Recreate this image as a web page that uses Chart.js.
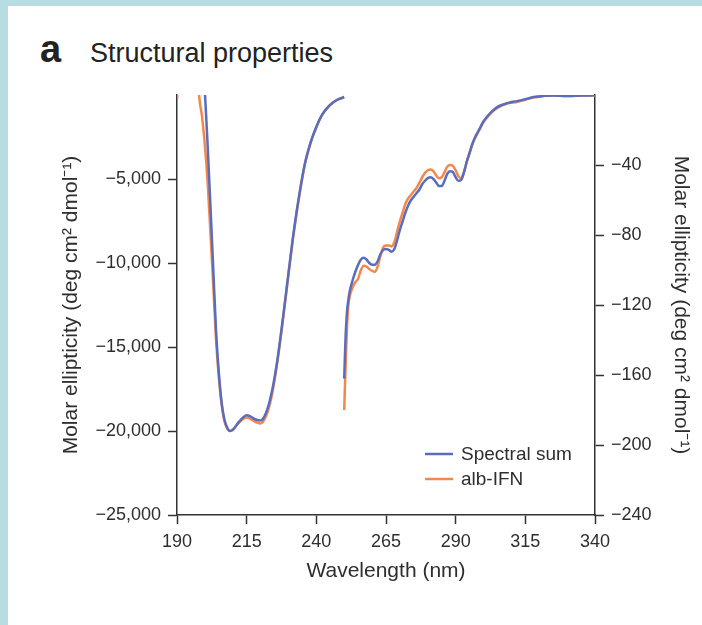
<!DOCTYPE html>
<html>
<head>
<meta charset="utf-8">
<script src="https://cdn.jsdelivr.net/npm/chart.js@4.4.0/dist/chart.umd.min.js"></script>
<style>
  html, body { margin: 0; padding: 0; background: #fff; }
  body { width: 702px; height: 625px; position: relative; overflow: hidden; font-family: 'Liberation Sans', Arial, sans-serif; }
  .band-top { position: absolute; left: 0; top: 0; width: 702px; height: 6px; background: #b7dde2; }
  .band-left { position: absolute; left: 0; top: 0; width: 8px; height: 625px; background: #b7dde2; }
  #grafico { position: absolute; left: 0; top: 0; }
  .panel { position: absolute; left: 40px; top: 30px; font-size: 38px; font-weight: bold; line-height: 38px; color: #222; }
  .heading { position: absolute; left: 90px; top: 40px; font-size: 27px; line-height: 27px; color: #222; }
</style>
</head>
<body>
<div class="band-top"></div>
<div class="band-left"></div>
<div class="panel">a</div>
<div class="heading">Structural properties</div>
<canvas id="grafico" width="702" height="625"></canvas>
<script>
// far-UV region (left axis)
const farWavelength = [190, 192, 194, 196, 198, 199, 200, 201, 202, 203, 204, 205, 206, 207, 208, 209, 210, 212, 214, 215, 216, 218, 220, 222, 224, 226, 228, 230, 232, 234, 236, 238, 240, 242, 244, 246, 248, 250];
const farSpectralSum = [3000, 8000, 10000, 9000, 5000, 2500, 200, -3000, -6600, -10300, -14000, -16500, -18300, -19300, -19800, -20000, -19950, -19500, -19150, -19060, -19100, -19300, -19380, -18900, -17700, -15800, -13300, -10600, -8000, -5800, -4000, -2800, -1900, -1200, -750, -450, -250, -120];
const farAlbIFN = [-220, 4000, 7000, 5000, -150, -1300, -3000, -5200, -8200, -11300, -14500, -16800, -18400, -19400, -19850, -20000, -19900, -19550, -19250, -19200, -19250, -19450, -19550, -19100, -17900, -15900, -13400, -10700, -8100, -5900, -4050, -2800, -1900, -1200, -750, -450, -250, -150];

// near-UV region (right axis)
const nearWavelength = [250, 250.5, 251, 251.5, 252, 253, 254, 255, 256, 257, 258, 259, 260, 261, 262, 263, 264, 265, 266, 267, 268, 269, 270, 271, 272, 273, 274, 275, 276, 277, 278, 279, 280, 281, 282, 283, 284, 285, 286, 287, 288, 289, 290, 291, 292, 293, 294, 295, 296, 297, 298, 299, 300, 302, 304, 306, 308, 310, 312, 314, 316, 318, 320, 322, 325, 330, 335, 340];
const nearSpectralSum = [-162, -138, -124, -117, -112, -106, -101, -97, -94, -93, -94, -96, -97, -97, -95, -91, -88.5, -88, -88.5, -89.5, -88, -83, -77, -72, -67, -63, -60, -58, -56, -54, -51, -49, -47.5, -47, -48, -50, -52, -52, -49, -45, -43.5, -44, -47, -49, -48.5, -44, -38, -33, -28, -24, -21, -18, -15, -11, -8, -6, -5, -4, -3.5, -2.8, -2, -1.2, -0.8, -0.5, -0.3, -0.5, -0.3, -0.2];
const nearAlbIFN = [-180, -155, -133, -120, -115, -110, -107, -105, -100, -97.5, -98, -99.5, -100.5, -101, -98, -92, -87, -86, -86, -86.5, -84, -78, -72, -67, -62, -59, -57, -55, -53, -50, -47, -44.5, -43, -42.5, -43.5, -46, -47.5, -47, -44, -41, -40, -40.5, -43, -46.5, -47.5, -44, -38, -33, -28, -24.5, -21.5, -18.5, -15.5, -11.5, -8.5, -6.5, -5, -4.5, -4, -3.2, -2.2, -1.5, -1, -0.5, -0.3, -0.6, -0.4, -0.2];

const xTicks = [190, 215, 240, 265, 290, 315, 340];
const leftTicks = [-25000, -20000, -15000, -10000, -5000];
const rightTicks = [-240, -200, -160, -120, -80, -40];
const seriesNames = ['Spectral sum', 'alb-IFN'];
const seriesColors = ['#5a6dbd', '#f4884c'];

const fonte = "'Liberation Sans', Arial, sans-serif";
const corTexto = '#2e2e2e';
const yTitulo = 'Molar ellipticity (deg cm\u00b2 dmol\u207b\u00b9)';

function pontos(xs, ys) {
    return xs.map((x, i) => ({ x: x, y: ys[i] }));
}

function formatar(v) {
    if (v < 0) return '\u2212' + Math.abs(v).toLocaleString('en-US');
    return v.toLocaleString('en-US');
}

// legend drawn inside the plot area
const legendaInterna = {
    id: 'legendaInterna',
    afterDraw(chart) {
        const c = chart.ctx;
        c.save();
        seriesNames.forEach((nome, i) => {
            const y = 454 + i * 25;
            c.strokeStyle = seriesColors[i];
            c.lineWidth = 2.5;
            c.beginPath();
            c.moveTo(425, y);
            c.lineTo(453, y);
            c.stroke();
            c.fillStyle = corTexto;
            c.font = '19px ' + fonte;
            c.textBaseline = 'middle';
            c.fillText(nome, 461, y + 1);
        });
        c.restore();
    }
};

function eixo(extra) {
    return Object.assign({
        grid: { display: true, drawOnChartArea: false, drawTicks: true, tickLength: 9, tickColor: '#333', tickWidth: 1.5 },
        border: { display: true, color: '#333', width: 1.5 },
        ticks: { color: corTexto, font: { family: fonte, size: 18 }, padding: 7, autoSkip: false, maxRotation: 0, callback: formatar }
    }, extra);
}

const ctx = document.getElementById('grafico').getContext('2d');

let grafico = new Chart(ctx, {
    type: 'line',
    data: {
        datasets: [
            { label: seriesNames[0], data: pontos(farWavelength, farSpectralSum), borderColor: seriesColors[0], yAxisID: 'y' },
            { label: seriesNames[0], data: pontos(nearWavelength, nearSpectralSum), borderColor: seriesColors[0], yAxisID: 'y2' },
            { label: seriesNames[1], data: pontos(farWavelength, farAlbIFN), borderColor: seriesColors[1], yAxisID: 'y' },
            { label: seriesNames[1], data: pontos(nearWavelength, nearAlbIFN), borderColor: seriesColors[1], yAxisID: 'y2' }
        ]
    },
    options: {
        responsive: false,
        animation: false,
        layout: { padding: { left: 55, right: 5, top: 95, bottom: 37 } },
        elements: {
            point: { radius: 0 },
            line: { borderWidth: 2.5, cubicInterpolationMode: 'monotone', fill: false }
        },
        plugins: { legend: { display: false }, tooltip: { enabled: false } },
        scales: {
            x: eixo({
                type: 'linear', min: 190, max: 340,
                afterBuildTicks: s => { s.ticks = xTicks.map(v => ({ value: v })); },
                afterFit: s => { s.height = 73; },
                title: { display: true, text: 'Wavelength (nm)', color: corTexto, font: { family: fonte, size: 21 }, padding: 4 }
            }),
            y: eixo({
                type: 'linear', position: 'left', min: -25000, max: 0,
                afterBuildTicks: s => { s.ticks = leftTicks.map(v => ({ value: v })); },
                afterFit: s => { s.width = 122; },
                title: { display: true, text: yTitulo, color: corTexto, font: { family: fonte, size: 21 }, padding: 4 }
            }),
            y2: eixo({
                type: 'linear', position: 'right', min: -240, max: 0,
                afterBuildTicks: s => { s.ticks = rightTicks.map(v => ({ value: v })); },
                afterFit: s => { s.width = 102; },
                title: { display: true, text: yTitulo, color: corTexto, font: { family: fonte, size: 21 }, padding: 4 }
            })
        }
    },
    plugins: [legendaInterna]
});
</script>
</body>
</html>
